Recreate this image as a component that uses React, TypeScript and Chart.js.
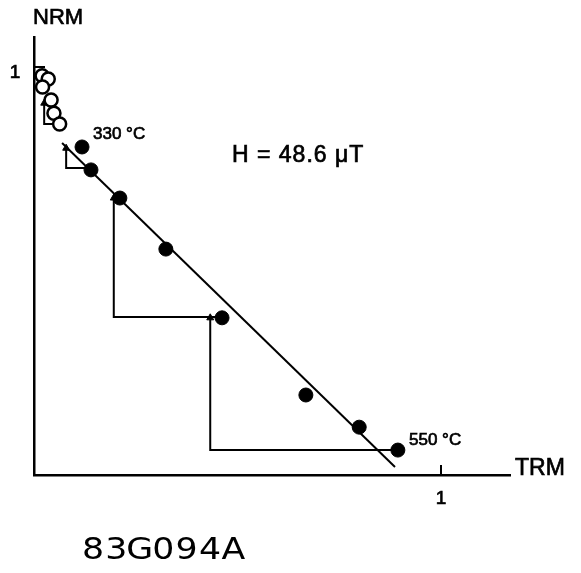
import React, { useEffect, useRef } from 'react';
import { Chart, registerables } from 'chart.js';

Chart.register(...registerables);

// Heating steps (filled circles), fraction of TRM gained vs NRM remaining
const stepTRM = [0.118, 0.140, 0.211, 0.324, 0.462, 0.668, 0.799, 0.894];
const stepNRM = [0.816, 0.759, 0.689, 0.562, 0.391, 0.199, 0.119, 0.062];

// Low-temperature steps (open circles)
const lowTRM = [0.020, 0.035, 0.021, 0.042, 0.049, 0.063];
const lowNRM = [0.993, 0.985, 0.965, 0.933, 0.900, 0.873];

// pTRM checks (triangles) and the points their check lines run to
const checkTRM = [0.025, 0.079, 0.196, 0.433];
const checkNRM = [0.925, 0.813, 0.689, 0.391];
const checkEndTRM = [0.064, 0.140, 0.462, 0.894];
const checkEndNRM = [0.873, 0.764, 0.393, 0.062];

// Short check line at the top of the plot
const topLineTRM = [0.0, 0.027];
const topLineNRM = [1.015, 1.015];

// Best-fit line
const fitTRM = [0.069, 0.887];
const fitNRM = [0.826, 0.020];

// Axis ranges and tick labels
const xMax = 1.1695;
const yMax = 1.0896;
const xTicks = [1];
const yTicks = [1];

const xAxisTitle = 'TRM';
const yAxisTitle = 'NRM';
const fieldLabel = 'H = 48.6 \u03bcT';
const firstStepLabel = '330 \u00b0C';
const lastStepLabel = '550 \u00b0C';
const sampleLabel = '83G094A';

const toPts = (xs: number[], ys: number[]) => xs.map((x, i) => ({ x, y: ys[i] }));

export default function App() {
  const ref = useRef<HTMLCanvasElement>(null);

  useEffect(() => {
    const canvas = ref.current;
    if (!canvas) return;

    const checkPaths: { x: number; y: number }[][] = checkTRM.map((tx, i) => [
      { x: tx, y: checkNRM[i] },
      { x: tx, y: checkEndNRM[i] },
      { x: checkEndTRM[i], y: checkEndNRM[i] },
    ]);

    const lineDs = (data: { x: number; y: number }[]) => ({
      data,
      showLine: true,
      borderColor: '#000',
      borderWidth: 2,
      pointRadius: 0,
      fill: false,
      tension: 0,
    });

    const F = '"Liberation Sans", Arial, sans-serif';

    const annotPlugin = {
      id: 'annot',
      afterDraw(chart: any) {
        const c = chart.ctx as CanvasRenderingContext2D;
        const xs = chart.scales.x;
        const ys = chart.scales.y;
        const txt = (s: string, x: number, y: number, font: string, spacing = 0) => {
          c.font = font;
          (c as any).letterSpacing = spacing + 'px';
          c.fillText(s, x, y);
          c.lineWidth = 0.7;
          c.strokeText(s, x, y);
          (c as any).letterSpacing = '0px';
        };
        c.save();
        c.fillStyle = '#000';
        c.strokeStyle = '#000';
        // x tick marks (pointing inward)
        c.lineWidth = 2;
        xTicks.forEach((t) => {
          const px = xs.getPixelForValue(t);
          c.beginPath();
          c.moveTo(px, ys.bottom);
          c.lineTo(px, ys.bottom - 10);
          c.stroke();
        });
        c.textBaseline = 'middle';
        c.textAlign = 'center';
        xTicks.forEach((t) => {
          txt(String(t), xs.getPixelForValue(t), ys.bottom + 24, '19px ' + F);
        });
        yTicks.forEach((t) => {
          txt(String(t), xs.left - 19, ys.getPixelForValue(t), '19px ' + F);
        });
        c.textAlign = 'left';
        // axis titles
        txt(yAxisTitle, xs.left - 1, 18, '22px ' + F);
        txt(xAxisTitle, xs.right + 5, ys.bottom - 6, '23px ' + F);
        // step labels
        txt(firstStepLabel, 93, 134, '17px ' + F);
        txt(lastStepLabel, 409, 440, '17px ' + F);
        // field
        txt(fieldLabel, 232, 156, '23px ' + F, 1);
        // sample name, wide glyphs at a fixed pitch
        c.font = '31px "DejaVu Sans", sans-serif';
        c.textAlign = 'center';
        sampleLabel.split('').forEach((ch, i) => {
          c.save();
          c.translate(93 + 23.4 * i, 551);
          c.scale(1.12, 1);
          c.fillText(ch, 0, 0);
          c.restore();
        });
        c.restore();
      },
    };

    const chart = new Chart(canvas, {
      type: 'scatter',
      data: {
        datasets: [
          {
            data: toPts(stepTRM, stepNRM),
            pointRadius: 7,
            pointBackgroundColor: '#000',
            pointBorderColor: '#000',
            pointBorderWidth: 1,
          } as any,
          {
            data: toPts(lowTRM, lowNRM),
            pointRadius: 6.5,
            pointBackgroundColor: '#fff',
            pointBorderColor: '#000',
            pointBorderWidth: 2.5,
          },
          {
            data: toPts(checkTRM, checkNRM),
            pointStyle: 'triangle',
            pointRadius: 4,
            pointBackgroundColor: '#000',
            pointBorderColor: '#000',
            pointBorderWidth: 1,
          },
          lineDs(toPts(fitTRM, fitNRM)),
          lineDs(toPts(topLineTRM, topLineNRM)),
          ...checkPaths.map((p) => lineDs(p)),
        ],
      },
      options: {
        responsive: false,
        animation: false,
        layout: { padding: { left: 34, top: 37, right: 71, bottom: 98 } },
        plugins: { legend: { display: false }, tooltip: { enabled: false } },
        scales: {
          x: {
            type: 'linear',
            min: 0,
            max: xMax,
            grid: { display: false, drawTicks: false },
            ticks: { display: false },
            border: { display: true, color: '#000', width: 2.5 },
          },
          y: {
            type: 'linear',
            min: 0,
            max: yMax,
            grid: { display: false, drawTicks: false },
            ticks: { display: false },
            border: { display: true, color: '#000', width: 2.5 },
          },
        },
      },
      plugins: [annotPlugin],
    });

    return () => chart.destroy();
  }, []);

  return (
    <div style={{ position: 'fixed', left: 0, top: 0, width: 581, height: 573, background: '#fff' }}>
      <canvas ref={ref} width={581} height={573} />
    </div>
  );
}
